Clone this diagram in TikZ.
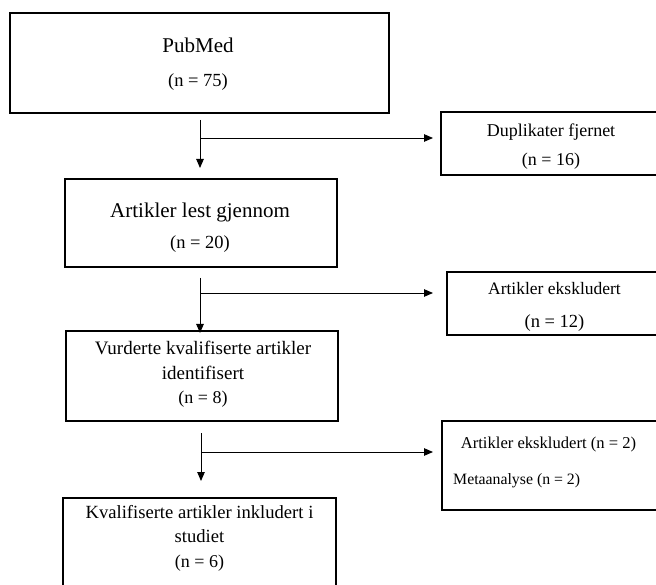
\documentclass[tikz,border=0pt]{standalone}
\usepackage{fontspec}
\setmainfont{Liberation Serif}
\usetikzlibrary{arrows.meta,calc}
\begin{document}
\begin{tikzpicture}[x=1pt,y=-1pt,
  box/.style={draw, line width=1.4pt, anchor=north west, inner sep=0pt, outer sep=0pt},
  txt/.style={anchor=base, inner sep=0pt},
  arr/.style={line width=0.85pt, -{Triangle[width=7.5pt,length=9pt]}}
]
\useasboundingbox (0,0) rectangle (656,585);
\clip (0,0) rectangle (656,585);
% boxes
\node[box, minimum width=379pt, minimum height=100pt] (b1) at (10,13) {};
\node[box, minimum width=230pt, minimum height=63pt] (d1) at (441,112) {};
\node[box, minimum width=272pt, minimum height=88pt] (b2) at (65,179) {};
\node[box, minimum width=230pt, minimum height=63pt] (d2) at (447,272) {};
\node[box, minimum width=272pt, minimum height=90pt] (b3) at (66,331) {};
\node[box, minimum width=230pt, minimum height=89pt] (d3) at (442,421) {};
\node[box, minimum width=273pt, minimum height=120pt] (b4) at (63,498) {};
% texts
\node[txt, font=\fontsize{21}{24}\selectfont] (t1a) at (198,53) {PubMed};
\node[txt, font=\fontsize{18.5}{22}\selectfont] (t1b) at (198,87) {(n = 75)};
\node[txt, font=\fontsize{18}{22}\selectfont] (td1a) at (551,136.5) {Duplikater fjernet};
\node[txt, font=\fontsize{18}{22}\selectfont] (td1b) at (551,165.5) {(n = 16)};
\node[txt, font=\fontsize{21}{24}\selectfont] (t2a) at (200,218) {Artikler lest gjennom};
\node[txt, font=\fontsize{18.5}{22}\selectfont] (t2b) at (200,249) {(n = 20)};
\node[txt, font=\fontsize{17.5}{22}\selectfont] (td2a) at (554.5,295) {Artikler ekskludert};
\node[txt, font=\fontsize{18.5}{22}\selectfont] (td2b) at (554.5,327) {(n = 12)};
\node[txt, font=\fontsize{19}{22}\selectfont] (t3a) at (203,355) {Vurderte kvalifiserte artikler};
\node[txt, font=\fontsize{19}{22}\selectfont] (t3b) at (203,379) {identifisert};
\node[txt, font=\fontsize{18}{22}\selectfont] (t3c) at (203,403) {(n = 8)};
\node[txt, font=\fontsize{16.6}{22}\selectfont] (td3a) at (548.5,448) {Artikler ekskludert (n = 2)};
\node[txt, anchor=base west, font=\fontsize{15.8}{18}\selectfont] (td3b) at (453,484) {Metaanalyse (n = 2)};
\node[txt, font=\fontsize{18.6}{22}\selectfont] (t4a) at (199.5,518) {Kvalifiserte artikler inkludert i};
\node[txt, font=\fontsize{18.6}{22}\selectfont] (t4b) at (199.5,542) {studiet};
\node[txt, font=\fontsize{18}{22}\selectfont] (t4c) at (199.5,567) {(n = 6)};
% connector coordinates
\coordinate (s1) at (200,120);
\coordinate (e1) at (200,168);
\coordinate (j1) at (200,138);
\coordinate (h1) at (433,138);
\coordinate (s2) at (200,278);
\coordinate (e2) at (200,333);
\coordinate (j2) at (200,293);
\coordinate (h2) at (433,293);
\coordinate (s3) at (201,433);
\coordinate (e3) at (201,481);
\coordinate (j3) at (201,452);
\coordinate (h3) at (433,452);
% connectors
\draw[arr] (s1) -- (e1);
\draw[arr] (j1) -- (h1);
\draw[arr] (s2) -- (e2);
\draw[arr] (j2) -- (h2);
\draw[arr] (s3) -- (e3);
\draw[arr] (j3) -- (h3);
\end{tikzpicture}
\end{document}
